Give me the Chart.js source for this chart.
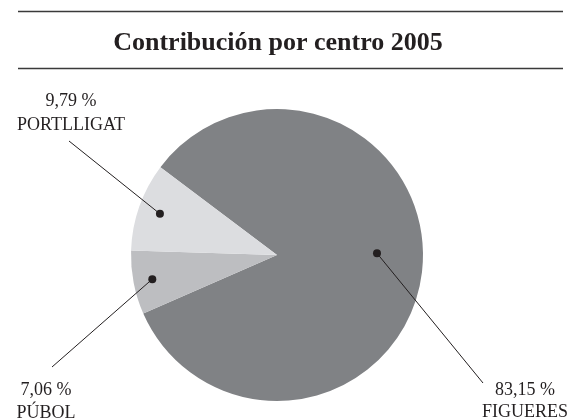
<!DOCTYPE html>
<html lang="es">
<head>
    <meta charset="UTF-8" />
    <title>Contribución por centro 2005</title>
    <script src="https://cdn.jsdelivr.net/npm/chart.js"></script>
    <style>
        html, body { margin: 0; padding: 0; background: #fff; }
        #wrap { width: 579px; height: 420px; position: relative; }
    </style>
</head>
<body>
    <div id="wrap"><canvas id="centrosChart"></canvas></div>
    <script>
    // Datos
    const centros = ['FIGUERES', 'PÚBOL', 'PORTLLIGAT'];
    const porcentajes = [83.15, 7.06, 9.79];
    const etiquetas = ['83,15 %', '7,06 %', '9,79 %'];
    const colores = ['#808285', '#bdbec1', '#dcdde0'];

    // Donde va cada rótulo (texto, final de la línea, punto dentro de la porción)
    const rotulos = [
        { x: 525, y1: 390, y2: 412, lx: 483, ly: 383, f: 0.685, ang: -0.017 },
        { x: 46,  y1: 390, y2: 413, lx: 52,  ly: 367, f: 0.87 },
        { x: 71,  y1: 101, y2: 125, lx: 69,  ly: 141, f: 0.85 }
    ];

    const tinta = '#231f20';

    const cabecera = {
        id: 'cabecera',
        afterDraw(chart) {
            const c = chart.ctx;
            c.save();
            // líneas del título
            c.strokeStyle = '#3a3a3a';
            c.lineWidth = 1.5;
            c.beginPath();
            c.moveTo(18, 11.5); c.lineTo(563, 11.5);
            c.moveTo(18, 68.5); c.lineTo(563, 68.5);
            c.stroke();
            c.fillStyle = tinta;
            c.font = 'bold 26px "Liberation Serif", serif';
            c.textAlign = 'center';
            c.textBaseline = 'alphabetic';
            c.fillText('Contribución por centro 2005', 278, 50);

            // rótulos con línea y punto
            const arcos = chart.getDatasetMeta(0).data;
            c.font = '18px "Liberation Serif", serif';
            c.textBaseline = 'middle';
            arcos.forEach((arco, i) => {
                const r = rotulos[i];
                const a = r.ang !== undefined ? r.ang : (arco.startAngle + arco.endAngle) / 2;
                const px = arco.x + Math.cos(a) * arco.outerRadius * r.f;
                const py = arco.y + Math.sin(a) * arco.outerRadius * r.f;
                c.strokeStyle = tinta;
                c.lineWidth = 1;
                c.beginPath();
                c.moveTo(r.lx, r.ly);
                c.lineTo(px, py);
                c.stroke();
                c.beginPath();
                c.arc(px, py, 4, 0, Math.PI * 2);
                c.fill();
                c.fillText(etiquetas[i], r.x, r.y1);
                c.fillText(centros[i], r.x, r.y2);
            });
            c.restore();
        }
    };

    new Chart(document.getElementById('centrosChart'), {
        type: 'pie',
        data: {
            labels: centros,
            datasets: [{
                data: porcentajes,
                backgroundColor: colores,
                borderWidth: 0,
                hoverOffset: 0,
                offset: 0
            }]
        },
        options: {
            responsive: true,
            maintainAspectRatio: false,
            animation: false,
            rotation: -53,
            layout: { padding: { top: 109, left: 131, right: 156, bottom: 19 } },
            plugins: {
                legend: { display: false },
                tooltip: { enabled: false },
                title: { display: false }
            }
        },
        plugins: [cabecera]
    });
    </script>
</body>
</html>
